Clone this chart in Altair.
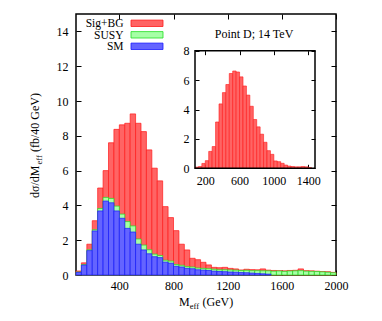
import altair as alt
import pandas as pd

# ---------------- data ----------------
# main histogram: 40 GeV bins, lower edges 80 ... 1960 GeV
bin_lo = list(range(80, 2000, 40))
sig_bg = [0.23, 0.70, 1.77, 3.12, 5.00, 6.00, 7.60, 8.37, 8.63, 8.72,
          9.26, 8.72, 8.24, 7.19, 6.14, 5.41, 3.93, 3.30, 2.55, 1.77,
          1.44, 0.96, 0.88, 0.73, 0.58, 0.44, 0.42, 0.44, 0.38, 0.35,
          0.29, 0.33, 0.31, 0.30, 0.35, 0.28, 0.26, 0.25, 0.24, 0.26,
          0.27, 0.35, 0.25, 0.24, 0.22, 0.20, 0.19, 0.15]
susy = [0.17, 0.60, 1.45, 2.60, 3.82, 4.46, 4.40, 3.96, 3.50, 3.07,
        2.82, 2.07, 1.72, 1.45, 1.20, 1.12, 0.85, 0.80, 0.60, 0.56,
        0.48, 0.46, 0.40, 0.38, 0.36, 0.33, 0.30, 0.30, 0.29, 0.28,
        0.26, 0.27, 0.25, 0.25, 0.24, 0.24, 0.22, 0.23, 0.21, 0.23,
        0.24, 0.25, 0.22, 0.21, 0.20, 0.18, 0.16, 0.13]
sm = [0.15, 0.57, 1.40, 2.53, 3.68, 4.25, 4.15, 3.68, 3.26, 2.68,
      2.47, 1.77, 1.44, 1.22, 1.05, 1.00, 0.74, 0.68, 0.50, 0.46,
      0.38, 0.36, 0.30, 0.28, 0.26, 0.22, 0.20, 0.19, 0.17, 0.16,
      0.14, 0.13, 0.11, 0.09, 0.07, 0.05, 0.0, 0.0, 0.0, 0.0,
      0.0, 0.0, 0.0, 0.0, 0.0, 0.0, 0.0, 0.0]

# inset histogram (signal), 40 GeV bins from 80 GeV
inset_vals = [0.08, 0.12, 0.33, 0.52, 1.15, 1.48, 3.15, 4.38, 5.15, 5.70,
              6.45, 6.62, 6.55, 6.22, 5.60, 4.98, 4.22, 3.32, 2.82, 2.32,
              1.77, 1.20, 0.95, 0.50, 0.45, 0.34, 0.22, 0.15, 0.12, 0.10,
              0.10, 0.12, 0.10, 0.05]
inset_lo = list(range(80, 80 + 40 * len(inset_vals), 40))

legend_labels = ["Sig+BG", "SUSY", "SM"]
main_xticks = [400, 800, 1200, 1600, 2000]
main_yticks = [0, 2, 4, 6, 8, 10, 12, 14]
inset_xticks = [200, 600, 1000, 1400]
inset_yticks = [0, 2, 4, 6, 8]

# ---------------- layout ----------------
W, H = 260, 261
FONT = "Liberation Serif"
RED_F, RED_S = "#ff6464", "#ff1a1a"
GRN_F, GRN_S = "#a6ffa6", "#22dd22"
BLU_F, BLU_S = "#6464ff", "#1a1aff"

# inset geometry (pixels inside the plot area)
IL, IR, IT, IB = 119, 239, 36.7, 154.3
TK = 5   # main tick length (inward)
TKI = 4  # inset tick length (inward)

df = pd.DataFrame({"lo": bin_lo, "hi": [b + 40 for b in bin_lo],
                   "sig_bg": sig_bg, "susy": susy, "sm": sm,
                   "base": [0.0] * len(bin_lo)})
dfi = pd.DataFrame({"lo": inset_lo, "hi": [b + 40 for b in inset_lo],
                    "v": inset_vals, "base": [0.0] * len(inset_lo)})

xs = alt.Scale(domain=[80, 2000], nice=False, zero=False)
ys = alt.Scale(domain=[0, 15], nice=False)
xsi = alt.Scale(domain=[80, 1480], range=[IL, IR], nice=False, zero=False)
ysi = alt.Scale(domain=[0, 8], range=[IB, IT], nice=False)


def ax(orient, values, offset, size, labels=True, pad=5):
    return alt.Axis(orient=orient, values=values, offset=offset, tickSize=size,
                    domain=False, grid=False, labels=labels, labelPadding=pad,
                    labelFlush=False, labelOverlap=False,
                    format="d", title=None, tickColor="black", tickWidth=1)


def bars(col, fill, stroke, xaxis, yaxis):
    return alt.Chart(df).transform_filter(alt.datum[col] > 0).mark_rect(
        fill=fill, stroke=stroke, strokeWidth=0.7
    ).encode(
        x=alt.X("lo:Q", scale=xs, axis=xaxis),
        x2="hi:Q",
        y=alt.Y(f"{col}:Q", scale=ys, axis=yaxis),
        y2="base:Q",
    )


red = bars("sig_bg", RED_F, RED_S,
           ax("bottom", main_xticks, -TK, TK, pad=5),
           ax("left", main_yticks, -TK, TK, pad=8))
green = bars("susy", GRN_F, GRN_S,
             ax("top", main_xticks, -TK, TK, labels=False),
             ax("right", main_yticks, -TK, TK, labels=False))
blue = bars("sm", BLU_F, BLU_S, None, None)

inset = alt.Chart(dfi).mark_rect(fill=RED_F, stroke=RED_S, strokeWidth=0.6).encode(
    x=alt.X("lo:Q", scale=xsi,
            axis=ax("bottom", inset_xticks, (IB - TKI) - H, TKI, pad=7)),
    x2="hi:Q",
    y=alt.Y("v:Q", scale=ysi,
            axis=ax("left", inset_yticks, -(IL + TKI), TKI, pad=6)),
    y2="base:Q",
)

frame_df = pd.DataFrame({"x0": [80], "x1": [1480], "y0": [0], "y1": [8]})
inset_frame = alt.Chart(frame_df).mark_rect(
    filled=False, stroke="black", strokeWidth=1.5
).encode(
    x=alt.X("x0:Q", scale=xsi,
            axis=ax("top", inset_xticks, -(IT + TKI), TKI, labels=False)),
    x2="x1:Q",
    y=alt.Y("y0:Q", scale=ysi,
            axis=ax("right", inset_yticks, (IR - TKI) - W, TKI, labels=False)),
    y2="y1:Q",
)

one = pd.DataFrame({"a": [0]})


def txt(s, x, y, size=12, align="left", angle=0):
    return alt.Chart(one).mark_text(
        text=s, font=FONT, fontSize=size, align=align, baseline="alphabetic",
        angle=angle, color="black"
    ).encode(x=alt.value(x), y=alt.value(y))


def swatch(x0, x1, y0, y1, fill, stroke):
    return alt.Chart(one).mark_rect(fill=fill, stroke=stroke, strokeWidth=0.8).encode(
        x=alt.value(x0), x2=alt.value(x1), y=alt.value(y0), y2=alt.value(y1))


layers = [red, green, blue, inset, inset_frame]

# legend (labels right-aligned, swatches to the right)
leg_fills = [(RED_F, RED_S), (GRN_F, GRN_S), (BLU_F, BLU_S)]
for i, (lab, (f, s)) in enumerate(zip(legend_labels, leg_fills)):
    cy = 9.3 + i * 11.5
    layers.append(txt(lab, 47.5, cy + 4.0, size=11.5, align="right"))
    layers.append(swatch(55, 87, cy - 3.2, cy + 3.2, f, s))

layers.append(txt("Point D; 14 TeV", 178, 24, align="center"))

# x title: M_eff (GeV)
layers.append(txt("M", 103, 292))
layers.append(txt("eff", 113.8, 295, size=8.5))
layers.append(txt("(GeV)", 126.5, 292))

# y title: dσ/dM_eff (fb/40 GeV), rotated
layers.append(txt("dσ/dM", -37.5, 184, angle=270))
layers.append(txt("eff", -34.5, 150.5, size=8.5, angle=270))
layers.append(txt("(fb/40 GeV)", -37.5, 138, angle=270))

chart = alt.layer(*layers).resolve_scale(
    x="independent", y="independent"
).properties(
    width=W, height=H,
    autosize=alt.AutoSizeParams(type="none"),
    padding={"left": 68, "top": 6, "right": 30, "bottom": 40},
).configure_view(
    stroke="black", strokeWidth=1.5
).configure_axis(
    labelFont=FONT, labelFontSize=12, labelColor="black"
)

chart.save("out.html", embed_options={"renderer": "svg", "actions": False})
